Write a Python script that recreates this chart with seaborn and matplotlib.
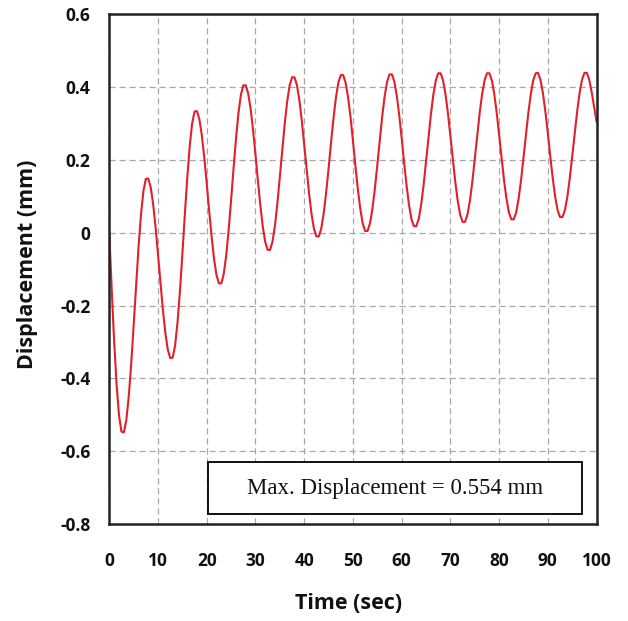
import numpy as np
import pandas as pd
import matplotlib
matplotlib.use("Agg")
import matplotlib.pyplot as plt
from matplotlib.patches import Rectangle
import seaborn as sns

# time samples (sec)
time_sec = np.arange(0, 100.5, 0.5)

# displacement (mm), one value per 0.5 s
displacement_mm = [
    0.000, -0.156, -0.298, -0.417, -0.502, -0.546,
    -0.548, -0.514, -0.449, -0.360, -0.255, -0.145, -0.040, 0.049, 0.114, 0.148,
    0.149, 0.125, 0.079, 0.016, -0.059, -0.137, -0.211, -0.274, -0.320, -0.344,
    -0.343, -0.310, -0.247, -0.160, -0.059, 0.049, 0.150, 0.237, 0.300, 0.333,
    0.334, 0.311, 0.267, 0.206, 0.135, 0.060, -0.011, -0.072, -0.116, -0.139,
    -0.139, -0.112, -0.062, 0.008, 0.090, 0.176, 0.258, 0.328, 0.378, 0.405,
    0.405, 0.383, 0.341, 0.283, 0.215, 0.143, 0.075, 0.017, -0.025, -0.047,
    -0.047, -0.024, 0.020, 0.081, 0.153, 0.228, 0.299, 0.360, 0.404, 0.427,
    0.427, 0.406, 0.365, 0.309, 0.243, 0.174, 0.108, 0.052, 0.011, -0.010,
    -0.010, 0.012, 0.053, 0.110, 0.176, 0.247, 0.313, 0.370, 0.412, 0.433,
    0.433, 0.412, 0.372, 0.318, 0.253, 0.185, 0.121, 0.066, 0.026, 0.005,
    0.005, 0.026, 0.066, 0.121, 0.186, 0.254, 0.319, 0.374, 0.414, 0.435,
    0.435, 0.415, 0.376, 0.323, 0.260, 0.193, 0.131, 0.077, 0.038, 0.018,
    0.018, 0.038, 0.077, 0.131, 0.195, 0.261, 0.325, 0.379, 0.418, 0.438,
    0.438, 0.418, 0.380, 0.328, 0.266, 0.202, 0.140, 0.088, 0.050, 0.030,
    0.030, 0.050, 0.088, 0.140, 0.202, 0.266, 0.328, 0.380, 0.418, 0.438,
    0.438, 0.419, 0.381, 0.330, 0.269, 0.206, 0.145, 0.094, 0.056, 0.037,
    0.037, 0.056, 0.094, 0.145, 0.206, 0.269, 0.330, 0.381, 0.419, 0.438,
    0.439, 0.419, 0.382, 0.332, 0.272, 0.209, 0.150, 0.099, 0.062, 0.043,
    0.043, 0.062, 0.099, 0.150, 0.210, 0.272, 0.332, 0.383, 0.420, 0.439,
    0.439, 0.420, 0.385, 0.345, 0.305,
]

x_ticks = [0, 10, 20, 30, 40, 50, 60, 70, 80, 90, 100]
y_ticks = [-0.8, -0.6, -0.4, -0.2, 0, 0.2, 0.4, 0.6]
y_tick_labels = ["-0.8", "-0.6", "-0.4", "-0.2", "0", "0.2", "0.4", "0.6"]
note = "Max. Displacement = 0.554 mm"

df = pd.DataFrame({"t": time_sec, "d": displacement_mm})

sns.set_style("white")
plt.rcParams["font.family"] = ["Open Sans", "DejaVu Sans"]

fig = plt.figure(figsize=(6.28, 6.21), dpi=100)
ax = fig.add_axes([0.174, 0.156, 0.776, 0.821])

sns.lineplot(data=df, x="t", y="d", color="#e0202a", linewidth=1.5, ax=ax)

ax.set_xlim(0, 100)
ax.set_ylim(-0.8, 0.6)
ax.set_xticks(x_ticks)
ax.set_yticks(y_ticks)
ax.set_yticklabels(y_tick_labels)
ax.grid(True, color="#a8a8a8", linestyle=(0, (5, 3)), linewidth=0.9)
ax.tick_params(direction="in", length=4, width=0.8, color="#888888",
               labelsize=12.5, labelcolor="#111111")
ax.tick_params(axis="x", pad=20)
ax.tick_params(axis="y", pad=13.5)
for lab in ax.get_xticklabels() + ax.get_yticklabels():
    lab.set_fontweight("bold")
for s in ax.spines.values():
    s.set_color("#222222")
    s.set_linewidth(1.8)

ax.set_xlabel("Time (sec)", fontsize=15.5, fontweight="bold", color="#111111", va="center")
ax.set_ylabel("Displacement (mm)", fontsize=15.5, fontweight="bold", color="#111111", va="center")
ax.xaxis.set_label_coords(0.49, -0.155)
ax.yaxis.set_label_coords(-0.168, 0.51)

# annotation box
ax.add_patch(Rectangle((0.2036, 0.0196), 0.766, 0.102, transform=ax.transAxes,
                       facecolor="white", edgecolor="black", linewidth=1.3, zorder=5))
ax.text(0.587, 0.0706, note, transform=ax.transAxes, ha="center", va="center",
        fontsize=16.5, family=["Liberation Serif", "DejaVu Serif"], color="#111111", zorder=6)

fig.savefig("out.png", dpi=100)
